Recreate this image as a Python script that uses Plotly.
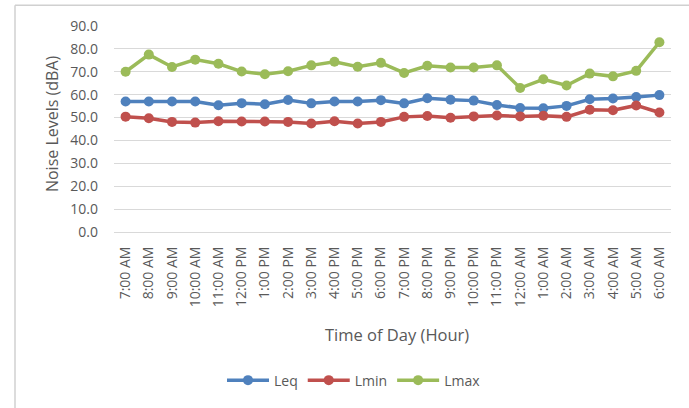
import plotly.graph_objects as go

hours = ["7:00 AM", "8:00 AM", "9:00 AM", "10:00 AM", "11:00 AM", "12:00 PM",
         "1:00 PM", "2:00 PM", "3:00 PM", "4:00 PM", "5:00 PM", "6:00 PM",
         "7:00 PM", "8:00 PM", "9:00 PM", "10:00 PM", "11:00 PM", "12:00 AM",
         "1:00 AM", "2:00 AM", "3:00 AM", "4:00 AM", "5:00 AM", "6:00 AM"]

leq = [57.0, 57.0, 57.0, 57.0, 55.4, 56.3, 55.8, 57.7, 56.2, 57.0, 57.0, 57.6,
       56.2, 58.4, 57.8, 57.4, 55.5, 54.2, 54.1, 55.1, 58.0, 58.3, 59.0, 59.8]
lmin = [50.4, 49.7, 48.1, 47.8, 48.4, 48.3, 48.3, 48.1, 47.4, 48.4, 47.4, 48.1,
        50.3, 50.7, 49.9, 50.5, 50.9, 50.5, 50.8, 50.3, 53.4, 53.2, 55.3, 52.2]
lmax = [70.0, 77.5, 72.1, 75.3, 73.5, 70.1, 68.9, 70.2, 72.8, 74.4, 72.2, 73.9,
        69.5, 72.6, 71.9, 71.9, 72.8, 62.9, 66.7, 64.0, 69.2, 68.0, 70.4, 82.9]

series = [("Leq", leq, "#4F81BD"), ("Lmin", lmin, "#C0504D"), ("Lmax", lmax, "#9BBB59")]

x_title = "Time of Day (Hour)"
y_title = "Noise Levels (dBA)"

FONT = "Open Sans"
TXT = "#595959"
fig = go.Figure()
for name, vals, col in series:
    fig.add_trace(go.Scatter(
        x=hours, y=vals, name=name, mode="lines+markers",
        line=dict(color=col, width=3.5),
        marker=dict(color=col, size=10),
    ))

W, H = 689, 408
L, R, T, B = 114, 671, 26, 234
pw, ph = R - L, B - T

def px(x):
    return (x - L) / pw

def py(y):
    return (B - y) / ph

fig.update_layout(
    width=W, height=H,
    margin=dict(l=L, r=W - R, t=T, b=H - B, pad=0),
    paper_bgcolor="white", plot_bgcolor="white",
    font=dict(family=FONT, color=TXT, size=14),
    showlegend=True,
    legend=dict(orientation="h", x=px(354), xanchor="center", y=py(384), yanchor="middle",
                font=dict(size=14, color=TXT), itemwidth=42, tracegroupgap=0,
                bgcolor="rgba(0,0,0,0)"),
    xaxis=dict(
        type="category", tickangle=-90, showgrid=False, automargin=False,
        showline=True, linecolor="#d9d9d9", linewidth=1,
        ticks="", ticklabelstandoff=8,
        tickfont=dict(size=14, color=TXT),
        range=[-0.5, 23.5],
    ),
    yaxis=dict(
        range=[0, 90], dtick=10, tickformat=".1f", automargin=False,
        showgrid=True, gridcolor="#d9d9d9", gridwidth=1,
        zeroline=False, showline=False, ticks="", ticklabelstandoff=15,
        tickfont=dict(size=14, color=TXT),
    ),
    annotations=[
        dict(text=x_title, xref="paper", yref="paper", x=px(397), y=py(337),
             xanchor="center", yanchor="middle", showarrow=False,
             font=dict(size=16.5, color=TXT)),
        dict(text=y_title, xref="paper", yref="paper", x=px(52), y=py(125),
             xanchor="center", yanchor="middle", showarrow=False, textangle=-90,
             font=dict(size=16, color=TXT)),
    ],
    shapes=[
        dict(type="line", xref="paper", yref="paper", x0=px(15), x1=px(700), y0=py(5), y1=py(5),
             line=dict(color="#d0d0d0", width=1.5)),
        dict(type="line", xref="paper", yref="paper", x0=px(15), x1=px(15), y0=py(5), y1=py(420),
             line=dict(color="#d0d0d0", width=1.5)),
    ],
)

fig.write_html("out.html", config={"displayModeBar": False},
               post_script="document.body.style.margin='0';document.body.style.overflow='hidden';")
